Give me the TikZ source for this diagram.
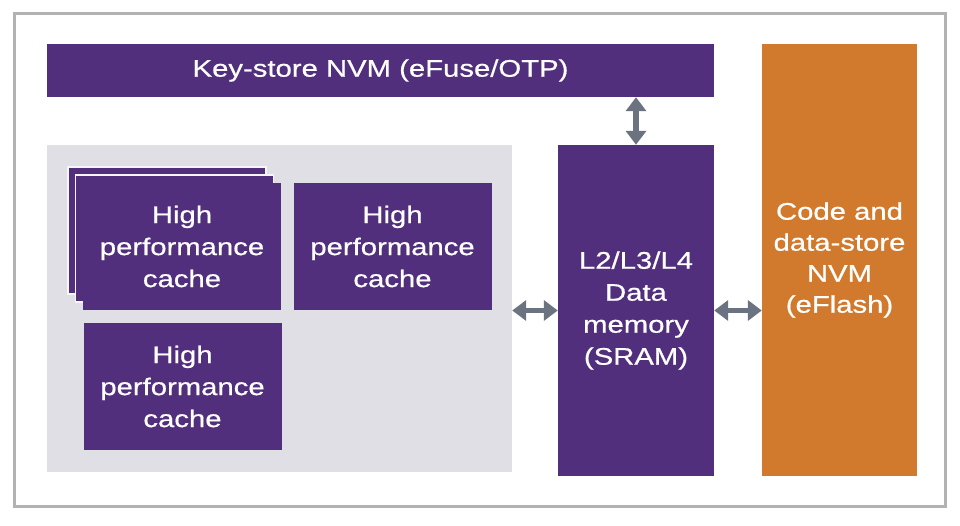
\documentclass[tikz,border=0pt]{standalone}
\usepackage{fontspec}
\setmainfont[FakeStretch=1.22,FakeBold=0.6]{Liberation Sans}
\usetikzlibrary{arrows.meta}
\definecolor{chippurple}{RGB}{81,47,125}
\definecolor{chiporange}{RGB}{209,122,46}
\definecolor{cachebg}{RGB}{224,223,229}
\definecolor{linkgray}{RGB}{107,114,128}
\definecolor{framegray}{RGB}{178,178,178}
\tikzstyle{block}=[inner sep=0,align=center,text=white,font=\fontsize{24}{32}\selectfont]
\tikzstyle{purpleblock}=[block,fill=chippurple]
\tikzstyle{cacheblock}=[purpleblock,minimum width=198,minimum height=127]
\tikzstyle{stacklayer}=[cacheblock,draw=white!70!cachebg,line width=1.2pt]
\tikzstyle{link}=[{Triangle[width=20pt,length=14pt]}-{Triangle[width=20pt,length=14pt]},line width=5.5pt,linkgray]

\begin{document}
\begin{tikzpicture}[x=1pt,y=-1pt]  % memory blocks of the chip
\useasboundingbox (0,0) rectangle (960,526);

\draw[framegray,line width=3pt] (14.5,13.5) rectangle (945.5,506.5);

\node[purpleblock,minimum width=667,minimum height=53] (keystore) at (380.5,70.5) {Key-store NVM (eFuse/OTP)};

\node[fill=cachebg,inner sep=0,minimum width=465,minimum height=327] (cachearea) at (279.5,308.5) {};

\node[stacklayer] (cacheback) at (167,230.5) {};
\node[stacklayer] (cachemid) at (174.5,238.5) {};
\node[cacheblock] (cacheone) at (182,246.5) {High\\performance\\cache};
\node[cacheblock] (cachetwo) at (392.5,246.5) {High\\performance\\cache};
\node[cacheblock] (cachethree) at (182.5,386.5) {High\\performance\\cache};

\node[purpleblock,minimum width=156,minimum height=331] (sram) at (636,310.5) {L2/L3/L4\\Data\\memory\\(SRAM)};

\node[block,fill=chiporange,minimum width=155,minimum height=432,font=\fontsize{24}{31}\selectfont] (eflash) at (839.5,260) {Code and\\data-store\\NVM\\(eFlash)};

\draw[link] (sram.north |- keystore.south) -- (sram.north);
\draw[link] (cachearea.east |- sram.west) -- (sram.west);
\draw[link] (sram.east) -- (eflash.west |- sram.east);
\end{tikzpicture}
\end{document}
